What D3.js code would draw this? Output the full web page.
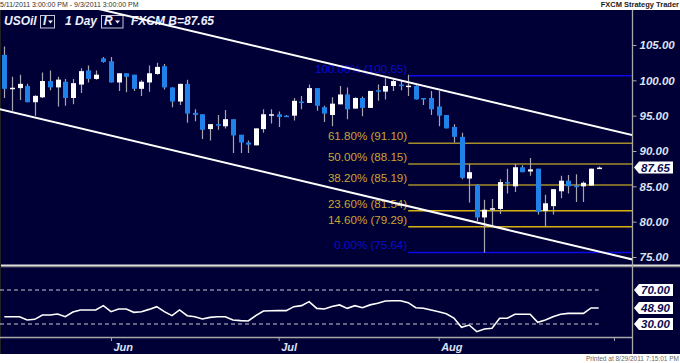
<!DOCTYPE html>
<html>
<head>
<meta charset="utf-8">
<script src="https://cdn.jsdelivr.net/npm/d3@7"></script>
<style>
body{margin:0;background:#fff}
svg{display:block}
text{font-family:"Liberation Sans",Arial,sans-serif}
</style>
</head>
<body>
<div id="chart"></div>
<script>
// daily USOil bars (one per trading day from May 12)
var openP  = [103.6,98.9,98.9,99.2,96.9,97.6,99.9,99.0,99.8,97.5,99.4,101.4,100.2,103.1,102.7,99.7,101.0,100.8,98.8,99.7,
              100.9,102.0,99.0,97.0,99.5,95.4,95.2,93.1,93.8,93.5,94.5,92.3,91.2,90.8,93.1,95.1,95.2,95.0,95.0,97.0,
              96.8,98.9,96.2,95.1,96.6,98.0,96.0,97.5,96.1,98.6,98.4,99.2,99.4,99.2,99.2,97.5,97.5,96.3,95.1,93.4,
              92.0,86.1,85.2,80.6,81.75,81.8,85.6,85.0,87.7,87.1,87.5,81.5,82.2,84.3,85.8,85.1,85.0,85.1,87.5];
var highP  = [104.8,100.5,100.8,99.5,97.9,101.1,101.4,100.5,100.2,100.2,101.7,102.1,101.4,103.3,103.3,101.0,101.0,100.8,100.0,102.1,
              102.5,102.3,99.0,99.5,100.1,95.9,95.2,93.8,95.1,95.8,94.5,92.3,91.5,93.2,95.9,95.9,95.6,95.1,97.5,97.8,
              99.4,98.9,96.4,97.6,99.2,99.0,97.6,97.7,98.5,99.4,100.3,100.2,100.0,100.8,99.3,97.5,98.5,98.5,95.1,93.8,
              92.6,88.2,85.3,83.1,83.2,86.0,87.5,88.2,88.0,89.0,87.5,83.8,84.6,86.5,86.6,86.7,85.7,87.5,87.8];
var lowP   = [97.5,95.7,97.2,96.9,95.0,97.5,98.6,96.3,96.4,96.6,98.2,99.7,100.1,102.5,99.7,98.5,98.3,98.5,97.8,98.4,
              100.8,98.7,96.2,96.5,94.0,94.2,91.7,91.5,93.0,93.2,89.7,89.7,89.7,90.8,92.6,93.9,93.4,94.8,94.3,95.9,
              96.8,95.7,94.1,93.5,96.6,94.5,96.0,94.9,96.1,97.1,97.3,98.5,98.6,97.8,97.3,96.5,95.1,93.5,93.2,91.2,
              86.0,82.7,80.1,75.64,79.5,81.1,84.0,84.2,87.0,86.5,81.0,79.2,81.0,83.3,84.0,82.8,82.8,85.1,87.5];
var closeP = [98.8,98.95,99.5,96.9,97.8,99.9,99.0,100.1,97.5,99.6,101.3,100.2,100.8,102.6,99.7,101.0,100.5,98.8,99.8,101.0,
              101.9,99.0,97.0,99.5,95.3,95.1,93.0,93.8,93.65,94.5,92.2,91.2,90.9,93.2,95.2,95.2,94.8,94.9,97.1,96.9,
              98.9,96.4,95.3,96.7,98.0,95.9,97.5,96.1,98.5,98.5,99.2,99.9,99.3,99.25,97.3,97.3,95.9,95.0,93.2,92.0,
              86.2,87.0,80.6,81.7,81.9,85.6,85.4,87.7,87.0,87.4,81.4,82.6,84.6,85.8,85.0,84.9,85.5,87.5,87.65];
var rsiVals = [38.6,38.6,38.6,34.7,35.5,40.6,40.6,41.8,38.6,44.0,46.5,46.5,46.5,51.6,44.5,47.6,47.6,43.7,44.5,47.2,
               50.4,44.5,39.8,46.5,39.8,38.6,35.9,37.8,38.6,38.6,34.7,34.0,33.5,39.8,45.3,45.5,45.7,45.7,50.4,51.6,
               56.3,48.4,47.6,50.5,52.4,48.4,51.6,49.2,52.5,54.3,57.0,57.4,57.4,55.1,49.2,48.5,46.5,44.5,42.0,37.0,
               26.1,28.8,21.0,24.1,24.9,36.7,36.7,41.4,41.4,41.4,32.0,34.7,38.6,41.4,42.5,42.5,42.5,48.9,48.9];

var fibPct = ["100.00%","61.80%","50.00%","38.20%","23.60%","14.60%","0.00%"];
var fibVal = [100.65,91.10,88.15,85.19,81.54,79.29,75.64];
var fibStart = 53;   // bar where the retracement is anchored

// trend channel, two anchor points each (bar, price)
var channelBars  = [0,82];
var upperChannel = [113.25,92.35];
var lowerChannel = [95.76,74.76];

var priceTicks = [75,80,85,90,95,100,105];
var rsiTicks = [30,70];
var lastPrice = 87.65, lastRsi = 48.90;

var W = 680, H = 363;
var navy = "#000036";

var tradingDays = d3.timeDay.range(new Date(2011,4,12), new Date(2011,8,3))
    .filter(function(d){ return d.getDay() % 6 !== 0; });

var svg = d3.select("#chart").append("svg").attr("width", W).attr("height", H);

var x = d3.scaleLinear().domain([-0.564, 82.37]).range([0, 632]);
var y = d3.scaleLinear().domain([75,105]).range([257,45]);
var yR = d3.scaleLinear().domain([30,70]).range([324,290]);

// top strip text
svg.append("text").attr("x",0).attr("y",7).attr("font-size",7).attr("fill","#333")
   .text("5/11/2011 3:00:00 PM - 9/3/2011 3:00:00 PM");
svg.append("text").attr("x",679).attr("y",7).attr("font-size",7.5).attr("font-weight","bold")
   .attr("text-anchor","end").attr("fill","#222").text("FXCM Strategy Trader");
svg.append("text").attr("x",679).attr("y",361).attr("font-size",6.5).attr("fill","#666")
   .attr("text-anchor","end").text("Printed at 8/29/2011 7:15:01 PM");

// panels
svg.append("rect").attr("x",0).attr("y",10).attr("width",W).attr("height",255).attr("fill",navy);
svg.append("rect").attr("x",0).attr("y",267).attr("width",W).attr("height",87).attr("fill",navy);
svg.append("rect").attr("x",0).attr("y",264.5).attr("width",W).attr("height",1.5).attr("fill","#e0e0e0");
svg.append("rect").attr("x",0).attr("y",266).attr("width",W).attr("height",1.3).attr("fill","#8a8a8a");
svg.append("line").attr("x1",0.5).attr("x2",0.5).attr("y1",10).attr("y2",354).attr("stroke","#222");

var defs = svg.append("defs");
defs.append("clipPath").attr("id","mainClip").append("rect")
    .attr("x",0).attr("y",10).attr("width",632).attr("height",254.5);
defs.append("clipPath").attr("id","rsiClip").append("rect")
    .attr("x",0).attr("y",267).attr("width",632).attr("height",70);

var main = svg.append("g").attr("clip-path","url(#mainClip)");

// header
var hdr = main.append("g").attr("font-size",12).attr("font-weight","bold")
    .attr("font-style","italic").attr("fill","#eef0ff");
hdr.append("text").attr("x",4).attr("y",25).text("USOil");
hdr.append("rect").attr("x",40.5).attr("y",15.5).attr("width",14).attr("height",12.5)
   .attr("fill","none").attr("stroke","#c8c8d8");
hdr.append("text").attr("x",43).attr("y",25).text("I");
hdr.append("path").attr("d","M48,20.5 L53,20.5 L50.5,23.5 Z");
hdr.append("text").attr("x",65).attr("y",25).text("1 Day");
hdr.append("rect").attr("x",101.5).attr("y",15.5).attr("width",21.5).attr("height",12.5)
   .attr("fill","none").attr("stroke","#c8c8d8");
hdr.append("text").attr("x",104).attr("y",25).text("R");
hdr.append("path").attr("d","M115,20.5 L120,20.5 L117.5,23.5 Z");
hdr.append("text").attr("x",131).attr("y",25).text("FXCM B=" + lastPrice.toFixed(2));

// fibonacci retracement
fibVal.forEach(function(v,k){
  var blue = (k === 0 || k === fibVal.length-1);
  var lineCol = blue ? "#0a0ae6" : (k >= 4 ? "#d8b20c" : "#a48d2a");
  main.append("line").attr("x1",x(fibStart)).attr("x2",632)
      .attr("y1",y(v)).attr("y2",y(v)).attr("stroke",lineCol).attr("stroke-width",1.6);
  main.append("text").attr("x",x(fibStart)-1).attr("y",y(v)-3)
      .attr("text-anchor","end").attr("font-size",11.6)
      .attr("fill", blue ? "#0a0ad8" : "#c9a630")
      .text(fibPct[k] + " (" + v.toFixed(2) + ")");
});

// candles
var bars = d3.range(openP.length);
main.selectAll("line.wick").data(bars).enter().append("line")
    .attr("class","wick")
    .attr("x1",function(i){ return Math.round(x(i))+0.5; })
    .attr("x2",function(i){ return Math.round(x(i))+0.5; })
    .attr("y1",function(i){ return y(highP[i]); })
    .attr("y2",function(i){ return y(lowP[i]); })
    .attr("stroke","#a6a6ae").attr("stroke-width",1.2);
main.selectAll("rect.body").data(bars).enter().append("rect")
    .attr("class","body")
    .attr("x",function(i){ return Math.round(x(i))-2; })
    .attr("width",5)
    .attr("y",function(i){ return y(Math.max(openP[i],closeP[i])); })
    .attr("height",function(i){ return Math.max(1.5, Math.abs(y(openP[i])-y(closeP[i]))); })
    .attr("fill",function(i){ return closeP[i] < openP[i] ? "#1f82e8" : "#ffffff"; });

// channel
function channel(vals){
  var slope = (vals[1]-vals[0])/(channelBars[1]-channelBars[0]);
  return [[-2, vals[0] + slope*(-2-channelBars[0])], [86, vals[0] + slope*(86-channelBars[0])]];
}
var chLine = d3.line().x(function(d){ return x(d[0]); }).y(function(d){ return y(d[1]); });
[upperChannel, lowerChannel].forEach(function(c){
  main.append("path").attr("d", chLine(channel(c))).attr("fill","none")
      .attr("stroke","#ffffff").attr("stroke-width",2);
});

// right axes
var axisCol = "#dde3f3";
svg.append("line").attr("x1",632.5).attr("x2",632.5).attr("y1",10).attr("y2",354)
   .attr("stroke","#a8a8a8").attr("stroke-width",1.3);

var pAxis = svg.append("g").attr("transform","translate(632.5,0)")
   .call(d3.axisRight(y).tickValues(priceTicks).tickFormat(d3.format(".2f")).tickSize(4).tickPadding(3));
pAxis.select(".domain").remove();
pAxis.selectAll("line").attr("stroke","#a8a8a8");
pAxis.selectAll("text").attr("font-size",11.5).attr("font-weight","bold").attr("font-style","italic")
     .attr("fill",axisCol).attr("font-family","Liberation Sans, Arial, sans-serif");

function tag(yc, label){
  var g = svg.append("g");
  g.append("path").attr("d","M634," + yc + " L639," + (yc-6) + " L673," + (yc-6) +
        " L673," + (yc+6) + " L639," + (yc+6) + " Z").attr("fill","#ffffff");
  g.append("text").attr("x",641).attr("y",yc+4.2).attr("font-size",11.5).attr("font-weight","bold")
   .attr("font-style","italic").attr("fill","#0a0a50").text(label);
}
tag(y(lastPrice), lastPrice.toFixed(2));

// RSI panel
var rsiG = svg.append("g").attr("clip-path","url(#rsiClip)");
rsiTicks.forEach(function(t){
  rsiG.append("line").attr("x1",0).attr("x2",x(openP.length-1))
      .attr("y1",yR(t)).attr("y2",yR(t)).attr("stroke","#c8c8d4")
      .attr("stroke-width",1.2).attr("stroke-dasharray","4,3");
});
rsiG.append("path").datum(rsiVals)
    .attr("d", d3.line().x(function(d,i){ return x(i); }).y(function(d){ return yR(d); }))
    .attr("fill","none").attr("stroke","#ffffff").attr("stroke-width",1.6);

rsiTicks.concat([lastRsi]).forEach(function(t){ tag(yR(t), t.toFixed(2)); });

// date axis
var monthIdx = d3.range(1, tradingDays.length).filter(function(i){
  return tradingDays[i].getMonth() !== tradingDays[i-1].getMonth();
});
var fmt = d3.timeFormat("%b");
var xAxis = svg.append("g").attr("transform","translate(0,337)")
   .call(d3.axisBottom(x).tickValues(monthIdx).tickSize(4).tickPadding(2)
     .tickFormat(function(i){ return x(i) + 20 < 632 ? fmt(tradingDays[i]) : ""; }));
xAxis.select(".domain").attr("d","M0,0.5H632").attr("stroke","#a8a8a8").attr("stroke-width",1.3);
xAxis.selectAll("line").attr("stroke","#a8a8a8");
xAxis.selectAll("text").attr("text-anchor","start").attr("dx",2).attr("font-size",11)
     .attr("font-weight","bold").attr("font-style","italic").attr("fill",axisCol)
     .attr("font-family","Liberation Sans, Arial, sans-serif");
</script>
</body>
</html>
